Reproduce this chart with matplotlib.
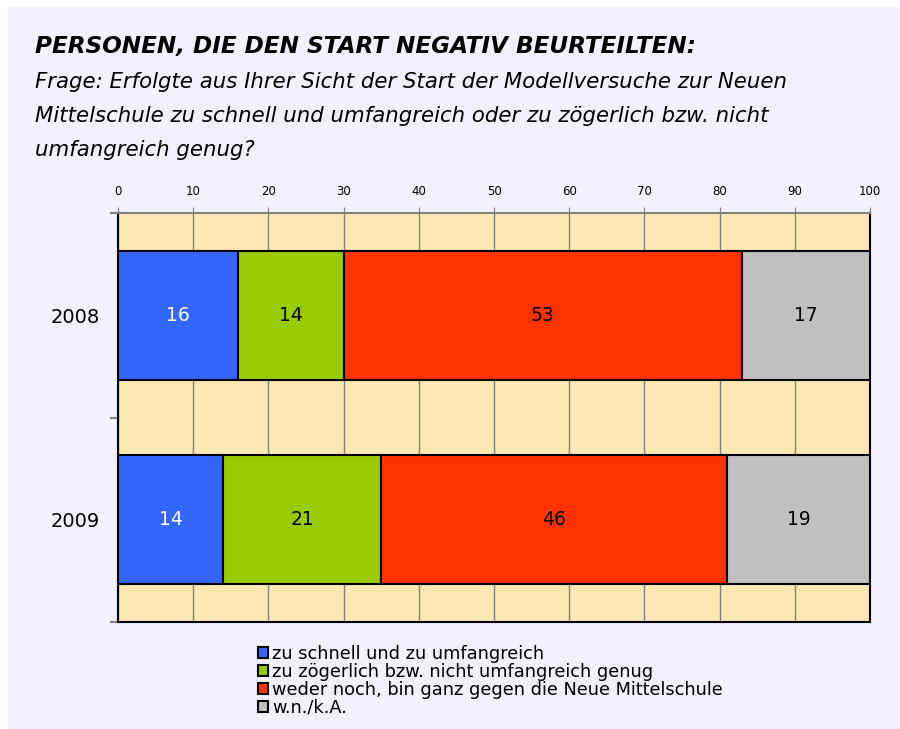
import matplotlib.pyplot as plt
from matplotlib.patches import Rectangle
import numpy as np

years = ['2008', '2009']
series_names = ['zu schnell und zu umfangreich',
                'zu zögerlich bzw. nicht umfangreich genug',
                'weder noch, bin ganz gegen die Neue Mittelschule',
                'w.n./k.A.']
schnell = [16, 14]
zoegerlich = [14, 21]
weder = [53, 46]
wnka = [17, 19]
colors = ['#3366FF', '#99CC00', '#FF3300', '#C0C0C0']
label_colors = ['white', 'black', 'black', 'black']

W, H = 900, 729
fig = plt.figure(figsize=(W / 100, H / 100), dpi=100)
fig.patch.set_facecolor('white')
fig.patches.append(Rectangle((8 / W, 0), 1, 1 - 7 / H, transform=fig.transFigure,
                             facecolor='#F0F0FF', edgecolor='none', zorder=-10))

font = 'DejaVu Sans'
fig.text(35 / W, 1 - 47 / H, 'PERSONEN, DIE DEN START NEGATIV BEURTEILTEN:',
         fontsize=16.7, fontweight='bold', fontstyle='italic', family=font, va='center')
sub = ['Frage: Erfolgte aus Ihrer Sicht der Start der Modellversuche zur Neuen',
       'Mittelschule zu schnell und umfangreich oder zu zögerlich bzw. nicht',
       'umfangreich genug?']
for i, line in enumerate(sub):
    fig.text(35 / W, 1 - (82 + 34 * i) / H, line, fontsize=15.3, fontstyle='italic',
             family=font, va='center')

ax = fig.add_axes([118 / W, 1 - 622 / H, (870 - 118) / W, (622 - 213) / H])
ax.set_facecolor('#FDE8B4')

y = np.arange(len(years))
data = [schnell, zoegerlich, weder, wnka]
left = np.zeros(len(years))
handles = []
for vals, c, tc, name in zip(data, colors, label_colors, series_names):
    b = ax.barh(y, vals, left=left, height=0.63, color=c, edgecolor='black',
                linewidth=1.5, zorder=3, label=name)
    handles.append(b)
    for yi, v, l in zip(y, vals, left):
        ax.text(l + v / 2, yi, str(v), ha='center', va='center', color=tc,
                fontsize=13.5, family=font, zorder=4)
    left += np.array(vals)

ax.set_xlim(0, 100)
ax.set_ylim(1.5, -0.5)
ax.set_xticks(np.arange(0, 101, 10))
ax.xaxis.tick_top()
ax.tick_params(axis='x', labelsize=8.5, length=4, color='#808080', pad=7)
for lbl in ax.get_xticklabels():
    lbl.set_family(font)
ax.grid(axis='x', color='#808080', linewidth=1, zorder=1)

ax.set_yticks(y)
ax.set_yticklabels(years, fontsize=14, family=font)
ax.set_yticks([-0.5, 0.5, 1.5], minor=True)
ax.tick_params(axis='y', which='major', length=0, pad=13)
ax.tick_params(axis='y', which='minor', length=6, color='#808080', width=1.5)

for s in ['left', 'right', 'bottom']:
    ax.spines[s].set_color('black')
    ax.spines[s].set_linewidth(1.5)
ax.spines['top'].set_color('#808080')
ax.spines['top'].set_linewidth(1.5)

fig.legend(handles=handles, loc='upper left', bbox_to_anchor=(249 / W, 1 - 636 / H),
           frameon=False, prop={'family': font, 'size': 12.8}, handlelength=0.55,
           handleheight=0.55, handletextpad=0.25, labelspacing=0.0, borderpad=0)

fig.savefig('out.png', dpi=100, facecolor=fig.get_facecolor())
